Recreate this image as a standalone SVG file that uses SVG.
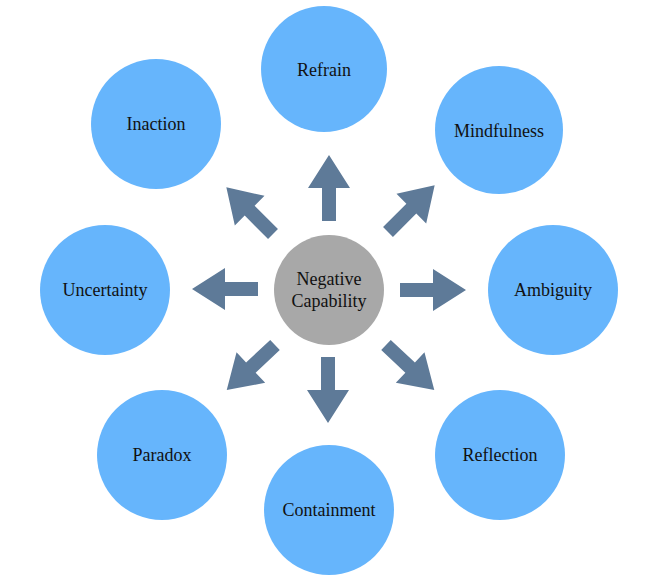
<svg xmlns="http://www.w3.org/2000/svg" xmlns:xlink="http://www.w3.org/1999/xlink" width="657" height="583" viewBox="0 0 657 583">
<style>
.n{fill:#66b5fc}
.t{font-family:"Liberation Serif","Times New Roman","DejaVu Serif",serif;font-size:18px;fill:#111;text-anchor:middle}
.a{fill:#5e7a98}
</style>
<defs><polygon id="arr" points="0,-7 33,-7 33,-21 66,0 33,21 33,7 0,7"/></defs>
<rect width="657" height="583" fill="#fff"/>
<g id="connectors" class="a">
<use xlink:href="#arr" transform="translate(329,221) rotate(-90)"/>
<use xlink:href="#arr" transform="translate(400,290)"/>
<use xlink:href="#arr" transform="translate(258,289) rotate(180)"/>
<use xlink:href="#arr" transform="translate(328,357) rotate(90)"/>
<use xlink:href="#arr" transform="translate(388,232) rotate(-45)"/>
<use xlink:href="#arr" transform="translate(273,234) rotate(-135)"/>
<use xlink:href="#arr" transform="translate(386,345) rotate(43)"/>
<use xlink:href="#arr" transform="translate(275,345) rotate(137)"/>
</g>
<g id="center"><circle cx="329" cy="290" r="55" fill="#a8a8a8"/><text class="t" x="329" y="285">Negative</text><text class="t" x="329" y="307">Capability</text></g>
<g id="refrain"><circle class="n" cx="324" cy="69" r="63"/><text class="t" x="324" y="76">Refrain</text></g>
<g id="mindfulness"><circle class="n" cx="499" cy="130" r="64"/><text class="t" x="499" y="137">Mindfulness</text></g>
<g id="ambiguity"><circle class="n" cx="553" cy="290" r="65"/><text class="t" x="553" y="296">Ambiguity</text></g>
<g id="reflection"><circle class="n" cx="500" cy="455" r="65"/><text class="t" x="500" y="461">Reflection</text></g>
<g id="containment"><circle class="n" cx="329" cy="510" r="65"/><text class="t" x="329" y="516">Containment</text></g>
<g id="paradox"><circle class="n" cx="162" cy="455" r="65"/><text class="t" x="162" y="461">Paradox</text></g>
<g id="uncertainty"><circle class="n" cx="105" cy="290" r="65"/><text class="t" x="105" y="296">Uncertainty</text></g>
<g id="inaction"><circle class="n" cx="156" cy="124" r="65"/><text class="t" x="156" y="130">Inaction</text></g>
</svg>
